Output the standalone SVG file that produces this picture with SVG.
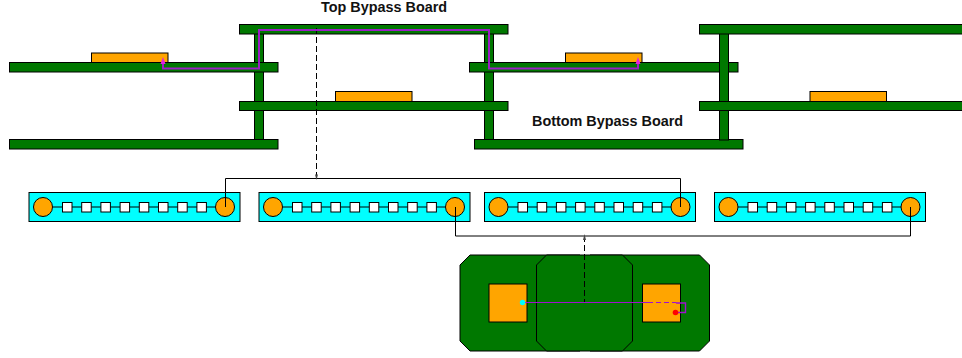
<svg xmlns="http://www.w3.org/2000/svg" width="962" height="358" viewBox="0 0 962 358">
<style>
.pcb{fill:#007800;stroke:#000;stroke-width:1}
.chip{fill:#ffa500;stroke:#000;stroke-width:1}
.strip{fill:#00ffff;stroke:#000;stroke-width:1}
.sq{fill:#fff;stroke:#000;stroke-width:1}
.wire{fill:none;stroke:#000;stroke-width:1}
.dash{fill:none;stroke:#000;stroke-width:1;stroke-dasharray:6 3}
.trace{fill:none;stroke:#9a1fc4;stroke-width:2}
.lbl{font-family:"Liberation Sans",Arial,sans-serif;font-weight:bold;font-size:14.4px;fill:#111}
</style>
<defs>
<g id="strip">
<rect class="strip" x="0" y="0" width="211" height="29"/>
<line class="wire" x1="14" y1="14.5" x2="196" y2="14.5"/>
<circle class="chip" cx="14" cy="14.5" r="9.5"/>
<circle class="chip" cx="196" cy="14.5" r="9.5"/>
<rect class="sq" x="33.5" y="10" width="9.5" height="9.5"/>
<rect class="sq" x="52.7" y="10" width="9.5" height="9.5"/>
<rect class="sq" x="71.9" y="10" width="9.5" height="9.5"/>
<rect class="sq" x="91.1" y="10" width="9.5" height="9.5"/>
<rect class="sq" x="110.3" y="10" width="9.5" height="9.5"/>
<rect class="sq" x="129.5" y="10" width="9.5" height="9.5"/>
<rect class="sq" x="148.7" y="10" width="9.5" height="9.5"/>
<rect class="sq" x="167.9" y="10" width="9.5" height="9.5"/>
</g>
</defs>
<g id="board-left">
<rect class="pcb" x="254.5" y="33" width="9" height="107"/>
<rect class="chip" x="91.5" y="53" width="76.5" height="9.5"/>
<rect class="pcb" x="9.5" y="62.5" width="268.5" height="9.5"/>
<rect class="pcb" x="9.5" y="139.5" width="268.5" height="9.5"/>
</g>
<g id="board-mid">
<rect class="pcb" x="484.5" y="33" width="9" height="107"/>
<rect class="pcb" x="239.5" y="24.5" width="268.5" height="9.5"/>
<rect class="chip" x="335.5" y="91.5" width="76.5" height="10"/>
<rect class="pcb" x="239.5" y="101.5" width="268.5" height="9"/>
<rect class="chip" x="565.5" y="53" width="76.5" height="9.5"/>
<rect class="pcb" x="469.5" y="62.5" width="268.5" height="9.5"/>
<rect class="pcb" x="474.5" y="139.5" width="268.5" height="9.5"/>
</g>
<g id="board-right">
<rect class="pcb" x="719.5" y="33" width="9" height="107"/>
<rect class="pcb" x="699.5" y="24.5" width="264" height="9.5"/>
<rect class="chip" x="810" y="91.5" width="76.5" height="10"/>
<rect class="pcb" x="699.5" y="101.5" width="264" height="9"/>
</g>
<g id="label-top"><text class="lbl" x="321" y="11.5">Top Bypass Board</text></g>
<g id="label-bottom"><text class="lbl" x="532" y="126">Bottom Bypass Board</text></g>
<g id="strip-1"><use href="#strip" x="29" y="192.5"/></g>
<g id="strip-2"><use href="#strip" x="259" y="192.5"/></g>
<g id="strip-3"><use href="#strip" x="484.5" y="192.5"/></g>
<g id="strip-4"><use href="#strip" x="714.5" y="192.5"/></g>
<g id="package">
<polygon class="pcb" points="470,255 580,255 580,351 470,351 460,341 460,265"/>
<polygon class="pcb" points="590,255 699.5,255 709.5,265 709.5,341 699.5,351 590,351"/>
<polygon class="pcb" points="546.5,255 622.5,255 632.5,265 632.5,341 622.5,351 546.5,351 536.5,341 536.5,265"/>
<rect class="chip" x="489" y="284" width="38" height="38"/>
<rect class="chip" x="642.5" y="284" width="38" height="38"/>
</g>
<g id="connectors">
<path class="wire" d="M225.5 207V178.5H680.5V207"/>
<path class="wire" d="M455.5 207V236H910.5V207"/>
<path class="dash" d="M316.5 28V178"/>
<path class="dash" d="M584.5 236V303"/>
<polygon points="316.5,180 315,174.5 318,174.5" fill="#444"/>
<polygon points="584.5,234 583,240 586,240" fill="#444"/>
<path class="trace" d="M163 60V68.5H259V30H489V68.5H638V60"/>
<polygon points="163,57 160.5,64 165.5,64" fill="#e020e0"/>
<polygon points="638,57 635.5,64 640.5,64" fill="#e020e0"/>
<path fill="none" stroke="#a010d0" stroke-width="1" d="M522.5 302.5H648"/>
<path fill="none" stroke="#a010d0" stroke-width="1" stroke-dasharray="5 3" d="M648 302.5H676"/>
<path fill="none" stroke="#a010d0" stroke-width="1.4" d="M676 303H685.5V312.5H676"/>
<circle cx="522.5" cy="302.5" r="2.7" fill="#00ffff"/>
<circle cx="675.5" cy="312.5" r="2.8" fill="#ff0000"/>
</g>
</svg>
